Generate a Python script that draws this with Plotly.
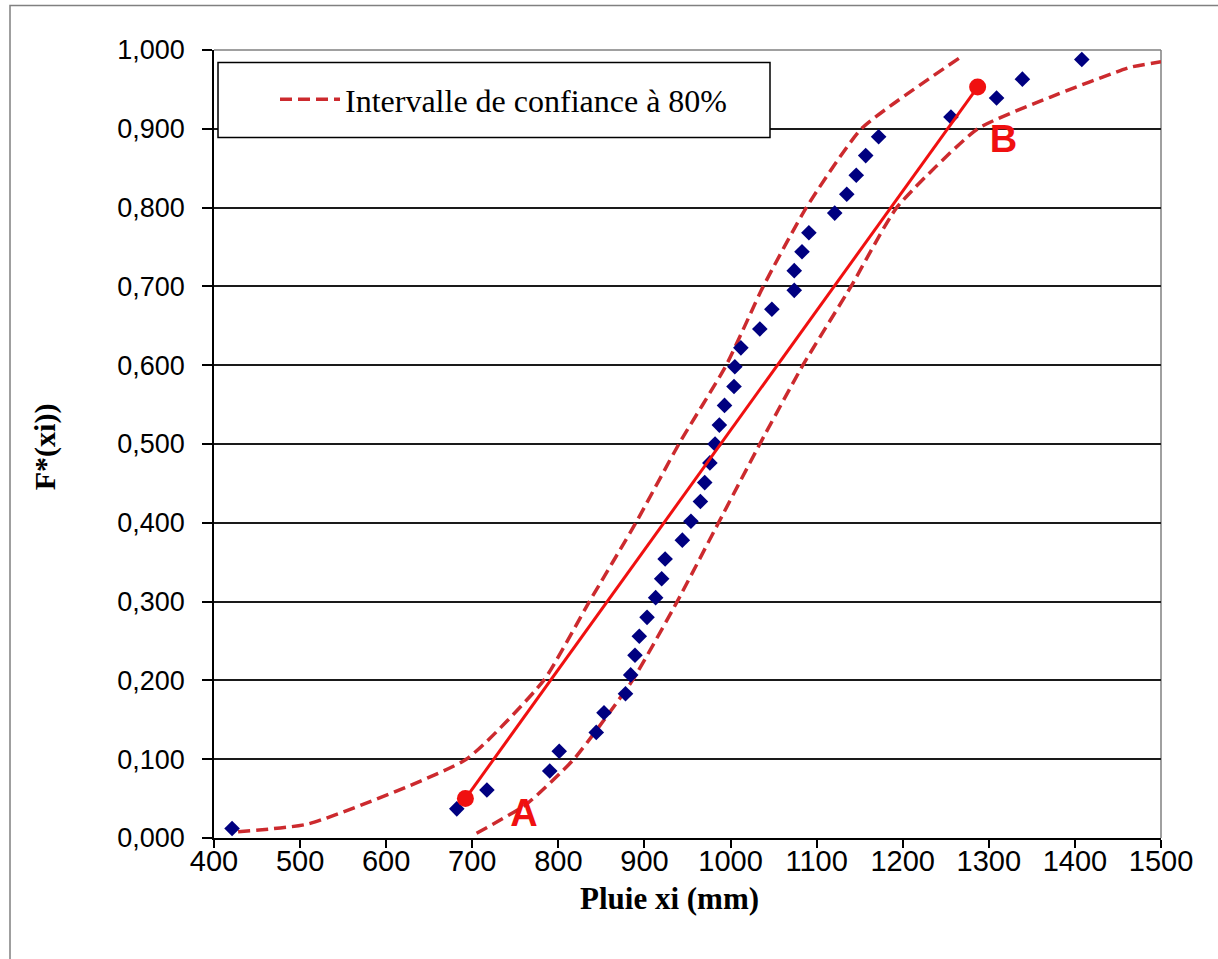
import plotly.graph_objects as go

# Observed points: rainfall xi (mm) and empirical frequency F*(xi)
obs_x = [421, 682, 717, 790, 801, 844, 853, 878, 884, 889, 894, 903, 913, 920, 924,
         944, 954, 965, 970, 976, 982, 987, 993, 1004, 1005, 1012, 1034, 1048, 1074,
         1074, 1083, 1091, 1121, 1135, 1146, 1157, 1172, 1256, 1309, 1339, 1408]
obs_f = [0.012, 0.037, 0.061, 0.085, 0.110, 0.134, 0.159, 0.183, 0.207, 0.232, 0.256,
         0.280, 0.305, 0.329, 0.354, 0.378, 0.402, 0.427, 0.451, 0.476, 0.500, 0.524,
         0.549, 0.573, 0.598, 0.622, 0.646, 0.671, 0.695, 0.720, 0.744, 0.768, 0.793,
         0.817, 0.841, 0.866, 0.890, 0.915, 0.939, 0.963, 0.988]

# Fitted law (segment A-B)
fit_x = [692, 1287]
fit_f = [0.050, 0.953]
fit_labels = ["A", "B"]
label_x = [760, 1317]
label_f = [0.027, 0.882]

# 80% confidence interval bounds
upper_x = [428, 510, 693, 783, 836, 890, 940, 995, 1038, 1088, 1152, 1266]
upper_f = [0.008, 0.018, 0.100, 0.200, 0.300, 0.400, 0.500, 0.600, 0.700, 0.800, 0.900, 0.990]
lower_x = [705, 763, 818, 886, 938, 986, 1034, 1084, 1140, 1193, 1287, 1371, 1464, 1500]
lower_f = [0.006, 0.043, 0.100, 0.200, 0.300, 0.400, 0.500, 0.600, 0.700, 0.800, 0.900,
           0.940, 0.978, 0.985]

x_ticks = [400, 500, 600, 700, 800, 900, 1000, 1100, 1200, 1300, 1400, 1500]
y_ticks = [0.0, 0.1, 0.2, 0.3, 0.4, 0.5, 0.6, 0.7, 0.8, 0.9, 1.0]

legend_name = "Intervalle de confiance à 80%"
x_title = "Pluie xi (mm)"
y_title = "F*(xi))"

DASH_RED = "#CC2A2E"
RED = "#F01010"
NAVY = "#000080"

fig = go.Figure()
fig.add_trace(go.Scatter(x=upper_x, y=upper_f, mode="lines", name=legend_name,
                         line=dict(color=DASH_RED, width=3.5, dash="12px,6px",
                                   shape="spline", smoothing=0.5),
                         showlegend=True))
fig.add_trace(go.Scatter(x=lower_x, y=lower_f, mode="lines", name=legend_name,
                         line=dict(color=DASH_RED, width=3.5, dash="12px,6px",
                                   shape="spline", smoothing=0.5),
                         showlegend=False))
fig.add_trace(go.Scatter(x=obs_x, y=obs_f, mode="markers", name="F*(xi)",
                         marker=dict(symbol="diamond", size=12, color=NAVY),
                         showlegend=False))
fig.add_trace(go.Scatter(x=fit_x, y=fit_f, mode="lines+markers", name="A-B",
                         line=dict(color=RED, width=3),
                         marker=dict(size=17, color=RED),
                         showlegend=False))
fig.add_trace(go.Scatter(x=label_x, y=label_f, mode="text", text=fit_labels,
                         textfont=dict(family="Liberation Sans", size=38, color=RED,
                                       weight="bold"),
                         showlegend=False, hoverinfo="skip"))

PW, PH = 947.0, 788.5
L, T = 214, 49.5


def px_x(p):
    return (p - L) / PW


def px_y(p):
    return (T + PH - p) / PH


shapes = [
    # outer chart frame
    dict(type="rect", xref="paper", yref="paper", x0=px_x(10), x1=px_x(1230),
         y0=px_y(975), y1=px_y(5), line=dict(color="#808080", width=1.5), layer="below"),
    # plot area top/right border
    dict(type="line", xref="paper", yref="paper", x0=0, x1=1, y0=1, y1=1,
         line=dict(color="#808080", width=1.5), layer="between"),
    dict(type="line", xref="paper", yref="paper", x0=1, x1=1, y0=0, y1=1,
         line=dict(color="#808080", width=1.5), layer="between"),
    # legend box
    dict(type="rect", xref="paper", yref="paper", x0=px_x(218), x1=px_x(770),
         y0=px_y(137), y1=px_y(62), line=dict(color="black", width=1.5),
         fillcolor="white", layer="above"),
]

annotations = [
    dict(text=x_title, xref="paper", yref="paper", x=px_x(669), y=px_y(899),
         showarrow=False, xanchor="center", yanchor="middle",
         font=dict(family="Liberation Serif", size=31, color="black", weight="bold")),
    dict(text=y_title, xref="paper", yref="paper", x=px_x(45), y=px_y(447),
         showarrow=False, xanchor="center", yanchor="middle", textangle=-90,
         font=dict(family="Liberation Serif", size=30, color="black", weight="bold")),
]

fig.update_layout(
    width=1218, height=959, autosize=False,
    margin=dict(l=214, r=57, t=49.5, b=121, pad=0),
    paper_bgcolor="white", plot_bgcolor="white",
    separators=", ",
    shapes=shapes, annotations=annotations,
    legend=dict(x=px_x(275), y=px_y(99), xanchor="left", yanchor="middle",
                bgcolor="rgba(0,0,0,0)", borderwidth=0, itemwidth=60,
                font=dict(family="Liberation Serif", size=32, color="black")),
    xaxis=dict(range=[400, 1500], tickvals=x_ticks, tickformat="d",
               showgrid=False, zeroline=False, showline=True, linecolor="black",
               linewidth=1.5, ticks="outside", ticklen=8, tickcolor="black",
               tickwidth=1.5, ticklabelstandoff=-12,
               tickfont=dict(family="Liberation Sans", size=29, color="black")),
    yaxis=dict(range=[0, 1], tickvals=y_ticks, tickformat=".3f",
               showgrid=True, gridcolor="#1a1a1a", gridwidth=1.5, zeroline=False,
               showline=True, linecolor="black", linewidth=1.5, ticks="outside",
               ticklen=10, tickcolor="black", tickwidth=1.5, ticklabelstandoff=12,
               tickfont=dict(family="Liberation Sans", size=27, color="black")),
)

fig.write_html("out.html", config={"displayModeBar": False},
               post_script="document.body.style.margin='0';")
